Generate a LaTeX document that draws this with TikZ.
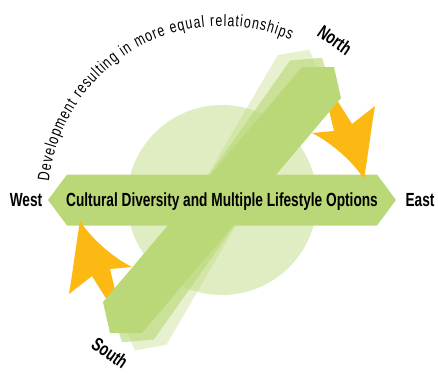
\documentclass[tikz,border=0pt]{standalone}
\usepackage{fontspec}
\setmainfont{Liberation Sans}
\newfontfamily\condbf{Liberation Sans Bold}[FakeStretch=0.72]
\newfontfamily\condlt{Liberation Sans}[FakeStretch=0.75]
\usetikzlibrary{decorations.text}
\definecolor{leafgreen}{HTML}{BAD878}
\definecolor{sunorange}{HTML}{FDB913}

\begin{document}
\begin{tikzpicture}[x=1pt,y=1pt]
 \tikzset{
  bar/.style={fill=leafgreen},
  turn/.style={fill=sunorange},
  compass/.style={font=\condbf\fontsize{19}{21}\selectfont,anchor=base}}
 \useasboundingbox (-222,-173) rectangle (216,200);
 \fill[leafgreen,opacity=.45] (0,0) circle (95);
 % shifted copies of the bar
 \fill[bar,opacity=.35,rotate=10] (80,133) -- (112,133) -- (119,102) -- (-80,-133) -- (-112,-133) -- (-119,-102) -- cycle;
 \fill[bar,opacity=.65,rotate=5] (80,133) -- (112,133) -- (119,102) -- (-80,-133) -- (-112,-133) -- (-119,-102) -- cycle;
 \fill[bar] (-155,25.5) -- (155,25.5) -- (174,0) -- (155,-25.5) -- (-155,-25.5) -- (-174,0) -- cycle;
 % turning arrows
 \fill[turn] (104,102) -- (112,69) -- (90,67) .. controls (110,57) and (131,38) .. (142,21) .. controls (146,45) and (149,70) .. (153,94) -- (130,76) -- (110,108) -- cycle;
 \fill[turn,rotate=180] (104,102) -- (112,69) -- (90,67) .. controls (110,57) and (131,38) .. (142,21) .. controls (146,45) and (149,70) .. (153,94) -- (130,76) -- (110,108) -- cycle;
 \fill[bar] (80,133) -- (112,133) -- (119,102) -- (-80,-133) -- (-112,-133) -- (-119,-102) -- cycle;
 \node[compass] (theme) at (0,-6.8){Cultural Diversity and Multiple Lifestyle Options};
 \node[compass] (west) at (-196,-6.8){West};
 \node[compass] (east) at (198,-6.8){East};
 \node[compass,anchor=center,inner sep=0pt,rotate=-35] (north) at (113,160){North};
 \node[compass,anchor=center,inner sep=0pt,rotate=-35] (south) at (-112,-153){South};
 \begin{scope}
  \condlt\fontsize{16.5}{18}\selectfont
  \path[decorate,decoration={text along path,text align=fit to path,
   text={Development resulting in more equal relationships}}]
   (173.8:174) arc[start angle=173.8,end angle=66.8,radius=174];
 \end{scope}
\end{tikzpicture}
\end{document}
